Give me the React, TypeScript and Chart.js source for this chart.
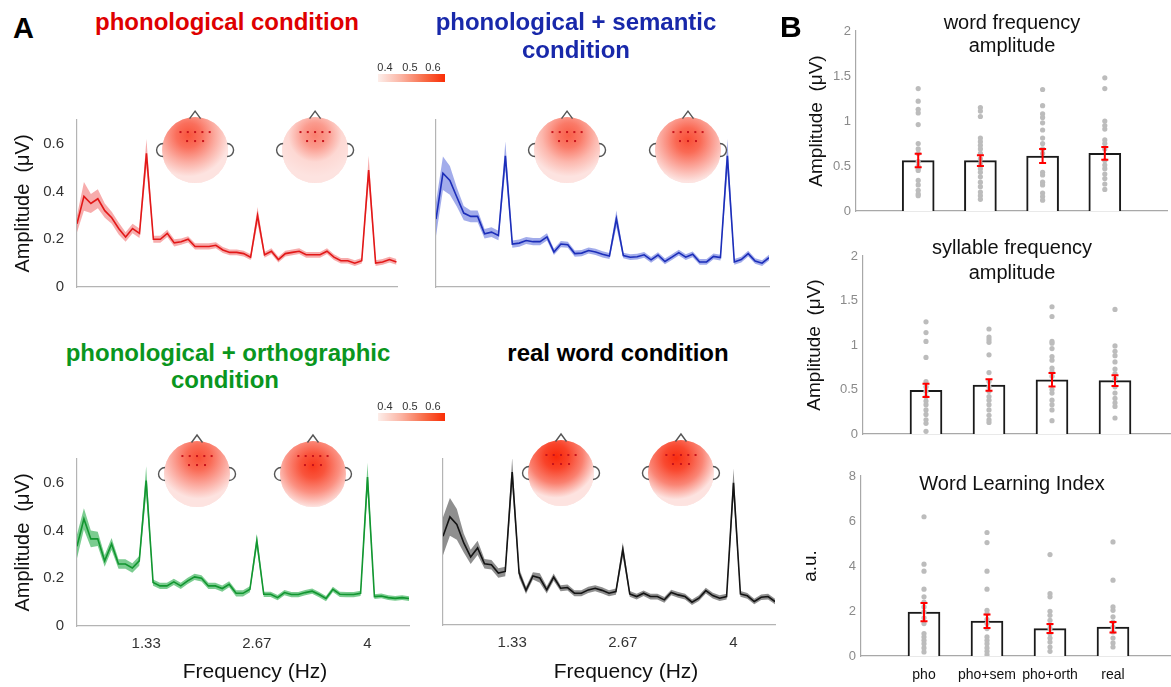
import React, { useEffect, useRef } from 'react';
import { Chart, registerables } from 'chart.js';

Chart.register(...registerables);

const FONT = '"Liberation Sans", Arial, Helvetica, sans-serif';
Chart.defaults.font.family = FONT;

// ---------------- Panel A : spectra ----------------
const freqStart = 0.5; // Hz, first frequency bin
const freqStep = 1 / 12; // Hz, spectral resolution
const freqTickValues = [1.3333, 2.6667, 4];
const freqTickLabels = ['1.33', '2.67', '4'];
const ampTickValues = [0, 0.2, 0.4, 0.6];
const ampTickLabels = ['0', '0.2', '0.4', '0.6'];

const phoMean = [0.265, 0.38, 0.35, 0.37, 0.32, 0.29, 0.245, 0.21, 0.245, 0.225, 0.56, 0.2, 0.2, 0.225, 0.185, 0.19, 0.2, 0.17, 0.17, 0.17, 0.175, 0.155, 0.145, 0.145, 0.14, 0.125, 0.3, 0.135, 0.15, 0.115, 0.14, 0.145, 0.15, 0.135, 0.135, 0.135, 0.15, 0.125, 0.11, 0.11, 0.1, 0.11, 0.49, 0.1, 0.105, 0.115, 0.105];
const phoSem = [0.035, 0.06, 0.04, 0.04, 0.03, 0.025, 0.025, 0.02, 0.02, 0.02, 0.06, 0.015, 0.015, 0.015, 0.015, 0.013, 0.013, 0.013, 0.013, 0.013, 0.013, 0.013, 0.012, 0.012, 0.012, 0.012, 0.035, 0.012, 0.012, 0.012, 0.012, 0.012, 0.012, 0.012, 0.012, 0.012, 0.012, 0.012, 0.012, 0.012, 0.012, 0.012, 0.06, 0.012, 0.012, 0.012, 0.012];

const semMean = [0.285, 0.477, 0.447, 0.377, 0.31, 0.296, 0.296, 0.223, 0.23, 0.216, 0.55, 0.18, 0.184, 0.195, 0.19, 0.19, 0.21, 0.147, 0.18, 0.177, 0.14, 0.142, 0.153, 0.147, 0.137, 0.13, 0.286, 0.132, 0.125, 0.127, 0.135, 0.114, 0.134, 0.107, 0.125, 0.144, 0.125, 0.137, 0.105, 0.105, 0.128, 0.123, 0.55, 0.105, 0.115, 0.14, 0.109, 0.1, 0.123];
const semSem = [0.07, 0.07, 0.06, 0.04, 0.03, 0.025, 0.025, 0.02, 0.02, 0.02, 0.06, 0.015, 0.015, 0.015, 0.015, 0.015, 0.015, 0.013, 0.013, 0.013, 0.013, 0.013, 0.013, 0.013, 0.013, 0.013, 0.035, 0.012, 0.012, 0.012, 0.012, 0.012, 0.012, 0.012, 0.012, 0.012, 0.012, 0.012, 0.012, 0.012, 0.012, 0.012, 0.07, 0.012, 0.012, 0.012, 0.012, 0.012, 0.012];

const orthMean = [0.334, 0.449, 0.365, 0.365, 0.273, 0.344, 0.26, 0.26, 0.243, 0.273, 0.61, 0.182, 0.168, 0.168, 0.185, 0.168, 0.189, 0.206, 0.2, 0.168, 0.168, 0.157, 0.175, 0.137, 0.137, 0.154, 0.357, 0.133, 0.133, 0.119, 0.14, 0.132, 0.132, 0.14, 0.146, 0.132, 0.115, 0.154, 0.133, 0.132, 0.132, 0.137, 0.624, 0.123, 0.126, 0.119, 0.116, 0.119, 0.115];
const orthSem = [0.05, 0.045, 0.035, 0.03, 0.025, 0.025, 0.02, 0.02, 0.02, 0.02, 0.06, 0.013, 0.013, 0.013, 0.013, 0.013, 0.013, 0.013, 0.013, 0.013, 0.013, 0.013, 0.013, 0.013, 0.013, 0.013, 0.03, 0.011, 0.011, 0.011, 0.011, 0.011, 0.011, 0.011, 0.011, 0.011, 0.011, 0.011, 0.011, 0.011, 0.011, 0.011, 0.06, 0.01, 0.01, 0.01, 0.01, 0.01, 0.01];

const realMean = [0.374, 0.456, 0.424, 0.346, 0.287, 0.325, 0.258, 0.254, 0.219, 0.226, 0.645, 0.219, 0.146, 0.207, 0.198, 0.148, 0.202, 0.155, 0.158, 0.134, 0.134, 0.148, 0.155, 0.146, 0.134, 0.141, 0.318, 0.131, 0.12, 0.134, 0.12, 0.12, 0.106, 0.137, 0.127, 0.12, 0.096, 0.113, 0.145, 0.124, 0.113, 0.12, 0.6, 0.131, 0.123, 0.099, 0.117, 0.12, 0.099];
const realSem = [0.08, 0.08, 0.065, 0.04, 0.03, 0.03, 0.02, 0.02, 0.02, 0.02, 0.06, 0.02, 0.015, 0.015, 0.02, 0.015, 0.015, 0.013, 0.013, 0.013, 0.013, 0.013, 0.013, 0.013, 0.013, 0.013, 0.03, 0.012, 0.012, 0.012, 0.012, 0.012, 0.012, 0.012, 0.012, 0.012, 0.012, 0.012, 0.012, 0.012, 0.012, 0.012, 0.06, 0.012, 0.012, 0.012, 0.012, 0.012, 0.012];

// topography peak amplitude (µV) for [word-frequency map, syllable-frequency map]
const phoTopo = [0.55, 0.47];
const semTopo = [0.53, 0.56];
const orthTopo = [0.56, 0.6];
const realTopo = [0.63, 0.62];

// ---------------- Panel B : bar plots ----------------
const conditionLabels = ['pho', 'pho+sem', 'pho+orth', 'real'];

const wordAmpMean = [0.56, 0.56, 0.61, 0.64];
const wordAmpErr = [0.075, 0.06, 0.078, 0.07];
const wordAmpSubjects = [
  [1.36, 1.22, 1.13, 1.09, 0.96, 0.75, 0.69, 0.64, 0.55, 0.5, 0.47, 0.45, 0.34, 0.29, 0.23, 0.19, 0.17],
  [1.15, 1.11, 1.05, 0.81, 0.77, 0.73, 0.69, 0.64, 0.58, 0.53, 0.47, 0.43, 0.38, 0.32, 0.27, 0.21, 0.17, 0.13],
  [1.35, 1.17, 1.08, 1.04, 0.98, 0.9, 0.81, 0.75, 0.69, 0.64, 0.43, 0.4, 0.32, 0.29, 0.2, 0.16, 0.12],
  [1.48, 1.36, 1.0, 0.95, 0.91, 0.79, 0.75, 0.69, 0.56, 0.51, 0.47, 0.41, 0.36, 0.3, 0.24],
];
const ampTicksB = [0, 0.5, 1, 1.5, 2];
const ampTickLabelsB = ['0', '0.5', '1', '1.5', '2'];

const sylAmpMean = [0.49, 0.55, 0.61, 0.6];
const sylAmpErr = [0.075, 0.065, 0.075, 0.06];
const sylAmpSubjects = [
  [1.26, 1.14, 1.04, 0.86, 0.59, 0.53, 0.48, 0.42, 0.37, 0.33, 0.27, 0.22, 0.16, 0.12, 0.03],
  [1.18, 1.09, 1.06, 1.03, 0.89, 0.69, 0.59, 0.53, 0.48, 0.42, 0.38, 0.33, 0.27, 0.21, 0.16, 0.13],
  [1.43, 1.32, 1.04, 1.02, 0.96, 0.87, 0.83, 0.74, 0.7, 0.65, 0.5, 0.46, 0.38, 0.33, 0.27, 0.15],
  [1.4, 0.99, 0.93, 0.88, 0.81, 0.73, 0.68, 0.62, 0.53, 0.46, 0.4, 0.35, 0.31, 0.18],
];

const wliMean = [1.95, 1.55, 1.22, 1.28];
const wliErr = [0.41, 0.3, 0.2, 0.23];
const wliSubjects = [
  [6.19, 4.08, 3.77, 2.97, 2.63, 2.4, 2.18, 1.96, 1.7, 1.44, 1.0, 0.85, 0.7, 0.55, 0.36, 0.18],
  [5.49, 5.04, 3.77, 2.97, 2.03, 1.88, 1.63, 1.44, 1.22, 0.85, 0.7, 0.55, 0.36, 0.21, 0.06],
  [4.51, 2.77, 2.63, 1.99, 1.81, 1.59, 1.39, 1.22, 1.0, 0.8, 0.62, 0.4, 0.21],
  [5.07, 3.37, 2.18, 2.03, 1.74, 1.51, 1.29, 1.07, 0.8, 0.58, 0.4],
];
const wliTicks = [0, 2, 4, 6, 8];
const wliTickLabels = ['0', '2', '4', '6', '8'];

// ---------------- helpers ----------------
type Rect = { left: number; top: number; width: number; height: number };

function heat(v: number, a = 1) {
  const t = Math.max(0, Math.min(1, (v - 0.3) / 0.35));
  const r = Math.round(253 - 5 * t);
  const g = Math.round(232 - 192 * t);
  const b = Math.round(230 - 220 * t);
  return `rgba(${r},${g},${b},${a})`;
}

function drawHead(ctx: CanvasRenderingContext2D, cx: number, cy: number, r: number, v: number, hx: number, hy: number) {
  ctx.save();
  ctx.beginPath();
  ctx.arc(cx, cy, r, 0, Math.PI * 2);
  ctx.clip();
  ctx.fillStyle = heat(0.31);
  ctx.fillRect(cx - r - 2, cy - r - 2, 2 * r + 4, 2 * r + 4);
  const gx = cx + hx * r;
  const gy = cy + hy * r;
  const g = ctx.createRadialGradient(gx, gy, 0, gx, gy, 1.25 * r);
  g.addColorStop(0, heat(v + 0.02));
  g.addColorStop(0.3, heat(v - 0.03));
  g.addColorStop(0.65, heat(v - 0.14));
  g.addColorStop(1, heat(0.31));
  ctx.fillStyle = g;
  ctx.fillRect(cx - r - 2, cy - r - 2, 2 * r + 4, 2 * r + 4);
  ctx.restore();

  ctx.save();
  ctx.strokeStyle = '#555';
  ctx.lineWidth = 1.4;
  ctx.beginPath();
  ctx.moveTo(cx - 5.5, cy - r + 1.5);
  ctx.lineTo(cx, cy - r - 6);
  ctx.lineTo(cx + 5.5, cy - r + 1.5);
  ctx.stroke();
  ctx.beginPath();
  ctx.arc(cx - r + 1, cy, 6.5, Math.PI * 0.5, Math.PI * 1.5);
  ctx.stroke();
  ctx.beginPath();
  ctx.arc(cx + r - 1, cy, 6.5, -Math.PI * 0.5, Math.PI * 0.5);
  ctx.stroke();
  ctx.fillStyle = '#c8141c';
  [-14.6, -7.3, 0, 7.3, 14.6].forEach((dx) => ctx.fillRect(cx + dx - 1, cy - 19, 2, 2));
  [-8, 0, 8].forEach((dx) => ctx.fillRect(cx + dx - 1, cy - 10, 2, 2));
  ctx.restore();
}

type HeadSpec = { x: number; y: number; hx: number; hy: number };

type LineSpec = {
  rect: Rect;
  yAxisWidth: number;
  xAxisHeight: number;
  padTop: number;
  padRight: number;
  xMax: number;
  mean: number[];
  sem: number[];
  line: string;
  band: string;
  yLabels: boolean;
  xLabels: boolean;
  topo: number[];
  heads: HeadSpec[];
};

function lineConfig(p: LineSpec): any {
  const xs = p.mean.map((_, i) => freqStart + i * freqStep);
  const pts = (arr: number[]) => arr.map((y, i) => ({ x: xs[i], y }));
  const lower = p.mean.map((m, i) => m - p.sem[i]);
  const upper = p.mean.map((m, i) => m + p.sem[i]);
  const headsPlugin = {
    id: 'heads',
    afterDatasetsDraw(chart: any) {
      const { ctx, scales } = chart;
      p.heads.forEach((h, i) => {
        drawHead(ctx, scales.x.getPixelForValue(h.x), scales.y.getPixelForValue(h.y), 33, p.topo[i], h.hx, h.hy);
      });
    },
  };
  return {
    type: 'line',
    data: {
      datasets: [
        { data: pts(lower), borderColor: 'rgba(0,0,0,0)', backgroundColor: p.band, pointRadius: 0, fill: false, order: 2 },
        { data: pts(upper), borderColor: 'rgba(0,0,0,0)', backgroundColor: p.band, pointRadius: 0, fill: '-1', order: 1 },
        { data: pts(p.mean), borderColor: p.line, borderWidth: 1.6, pointRadius: 0, fill: false, order: 0 },
      ],
    },
    plugins: [headsPlugin],
    options: {
      responsive: false,
      animation: false,
      devicePixelRatio: 1,
      layout: { padding: { top: p.padTop, right: p.padRight, left: 0, bottom: 0 } },
      plugins: { legend: { display: false }, tooltip: { enabled: false } },
      scales: {
        x: {
          type: 'linear',
          min: freqStart,
          max: p.xMax,
          grid: { display: false, drawTicks: false },
          border: { display: true, color: '#b4b4b4', width: 1.2 },
          afterBuildTicks: (s: any) => {
            s.ticks = freqTickValues.map((v) => ({ value: v }));
          },
          afterFit: (s: any) => {
            s.height = p.xAxisHeight;
            s.paddingLeft = 0;
            s.paddingRight = 0;
          },
          ticks: {
            display: p.xLabels,
            padding: 9,
            color: '#333',
            font: { size: 15, family: FONT },
            autoSkip: false,
            maxRotation: 0,
            callback: (_v: any, i: number) => freqTickLabels[i],
          },
        },
        y: {
          type: 'linear',
          min: 0,
          max: 0.7,
          grid: { display: false, drawTicks: false },
          border: { display: true, color: '#b4b4b4', width: 1.2 },
          afterBuildTicks: (s: any) => {
            s.ticks = ampTickValues.map((v) => ({ value: v }));
          },
          afterFit: (s: any) => {
            s.width = p.yAxisWidth;
            s.paddingTop = 0;
            s.paddingBottom = 0;
          },
          ticks: {
            display: p.yLabels,
            padding: 13,
            color: '#333',
            font: { size: 15, family: FONT },
            callback: (_v: any, i: number) => ampTickLabels[i],
          },
          title: {
            display: p.yLabels,
            text: 'Amplitude  (μV)',
            color: '#111',
            font: { size: 20, family: FONT },
            padding: { top: 11, bottom: 0 },
          },
        },
      },
    },
  };
}

type BarSpec = {
  rect: Rect;
  yAxisWidth: number;
  xAxisHeight: number;
  padTop: number;
  padRight: number;
  yMax: number;
  yTicks: number[];
  yTickLabels: string[];
  means: number[];
  errs: number[];
  subjects: number[][];
  yTitle: string;
  titlePad: number;
  xLabels: boolean;
};

function barConfig(p: BarSpec): any {
  const bars = p.means.map((m, i) => ({ x: i + 1, y: m }));
  const dots: { x: number; y: number }[] = [];
  p.subjects.forEach((g, gi) => g.forEach((v) => dots.push({ x: gi + 1, y: v })));
  const errPlugin = {
    id: 'errbars',
    afterDatasetsDraw(chart: any) {
      const { ctx, scales } = chart;
      ctx.save();
      ctx.strokeStyle = '#f00';
      ctx.lineWidth = 2;
      p.means.forEach((m, i) => {
        const px = scales.x.getPixelForValue(i + 1);
        const y1 = scales.y.getPixelForValue(m - p.errs[i]);
        const y2 = scales.y.getPixelForValue(m + p.errs[i]);
        ctx.beginPath();
        ctx.moveTo(px, y1);
        ctx.lineTo(px, y2);
        ctx.moveTo(px - 3.5, y1);
        ctx.lineTo(px + 3.5, y1);
        ctx.moveTo(px - 3.5, y2);
        ctx.lineTo(px + 3.5, y2);
        ctx.stroke();
      });
      ctx.restore();
    },
  };
  return {
    type: 'bar',
    data: {
      datasets: [
        { type: 'scatter', data: dots, pointRadius: 2.6, pointBackgroundColor: '#bcbcbc', pointBorderWidth: 0, order: 0 },
        { type: 'bar', data: bars, backgroundColor: '#ffffff', borderColor: '#1a1a1a', borderWidth: 2, barThickness: 32, order: 1 },
      ],
    },
    plugins: [errPlugin],
    options: {
      responsive: false,
      animation: false,
      devicePixelRatio: 1,
      layout: { padding: { top: p.padTop, right: p.padRight, left: 0, bottom: 0 } },
      plugins: { legend: { display: false }, tooltip: { enabled: false } },
      scales: {
        x: {
          type: 'linear',
          min: 0,
          max: 5,
          offset: false,
          grid: { display: false, drawTicks: false },
          border: { display: true, color: '#a8a8a8', width: 1.2 },
          afterBuildTicks: (s: any) => {
            s.ticks = conditionLabels.map((_, i) => ({ value: i + 1 }));
          },
          afterFit: (s: any) => {
            s.height = p.xAxisHeight;
            s.paddingLeft = 0;
            s.paddingRight = 0;
          },
          ticks: {
            display: p.xLabels,
            padding: 11,
            color: '#111',
            font: { size: 14, family: FONT },
            autoSkip: false,
            maxRotation: 0,
            callback: (_v: any, i: number) => conditionLabels[i],
          },
        },
        y: {
          type: 'linear',
          min: 0,
          max: p.yMax,
          grid: { display: false, drawTicks: false },
          border: { display: true, color: '#a8a8a8', width: 1.2 },
          afterBuildTicks: (s: any) => {
            s.ticks = p.yTicks.map((v) => ({ value: v }));
          },
          afterFit: (s: any) => {
            s.width = p.yAxisWidth;
            s.paddingTop = 0;
            s.paddingBottom = 0;
          },
          ticks: {
            padding: 5,
            color: '#8a8a8a',
            font: { size: 13, family: FONT },
            callback: (_v: any, i: number) => p.yTickLabels[i],
          },
          title: {
            display: true,
            text: p.yTitle,
            color: '#111',
            font: { size: 19, family: FONT },
            padding: { top: p.titlePad, bottom: 0 },
          },
        },
      },
    },
  };
}

function ChartCanvas({ rect, config }: { rect: Rect; config: () => any }) {
  const ref = useRef<HTMLCanvasElement>(null);
  useEffect(() => {
    const chart = new Chart(ref.current as HTMLCanvasElement, config());
    return () => chart.destroy();
  }, []);
  return (
    <canvas
      ref={ref}
      width={rect.width}
      height={rect.height}
      style={{ position: 'absolute', left: rect.left, top: rect.top, width: rect.width, height: rect.height }}
    />
  );
}

function Text({ x, baseline, size, bold, color = '#111', children }: any) {
  return (
    <div
      style={{
        position: 'absolute',
        left: x,
        top: baseline - 0.8465 * size,
        transform: 'translateX(-50%)',
        fontFamily: FONT,
        fontSize: size,
        lineHeight: `${size}px`,
        fontWeight: bold ? 700 : 400,
        color,
        whiteSpace: 'nowrap',
      }}
    >
      {children}
    </div>
  );
}

function ColorBar({ top }: { top: number }) {
  return (
    <>
      <div
        style={{
          position: 'absolute',
          left: 378,
          top,
          width: 67,
          height: 8,
          background: 'linear-gradient(to right, #fdeeea, #fbb3a2 35%, #f86a45 70%, #fa2d05)',
        }}
      />
      <Text x={385} baseline={top - 2.5} size={11} color="#333">0.4</Text>
      <Text x={410} baseline={top - 2.5} size={11} color="#333">0.5</Text>
      <Text x={433} baseline={top - 2.5} size={11} color="#333">0.6</Text>
    </>
  );
}

export default function App() {
  useEffect(() => {
    document.body.style.margin = '0';
  }, []);

  const tl: LineSpec = {
    rect: { left: 0, top: 100, width: 400, height: 200 },
    yAxisWidth: 77, xAxisHeight: 13, padTop: 20, padRight: 3, xMax: 4.34,
    mean: phoMean, sem: phoSem, line: 'rgb(226,24,24)', band: 'rgba(238,70,70,0.45)',
    yLabels: true, xLabels: false, topo: phoTopo,
    heads: [{ x: 1.917, y: 0.574, hx: -0.2, hy: -0.45 }, { x: 3.357, y: 0.574, hx: 0, hy: -0.45 }],
  };
  const tr: LineSpec = {
    rect: { left: 420, top: 100, width: 360, height: 200 },
    yAxisWidth: 16, xAxisHeight: 13, padTop: 20, padRight: 11, xMax: 4.5,
    mean: semMean, sem: semSem, line: 'rgb(28,46,185)', band: 'rgba(70,90,215,0.5)',
    yLabels: false, xLabels: false, topo: semTopo,
    heads: [{ x: 2.074, y: 0.574, hx: 0.05, hy: -0.45 }, { x: 3.527, y: 0.574, hx: 0, hy: -0.3 }],
  };
  const bl: LineSpec = {
    rect: { left: 0, top: 420, width: 420, height: 267 },
    yAxisWidth: 77, xAxisHeight: 61, padTop: 39, padRight: 11, xMax: 4.5,
    mean: orthMean, sem: orthSem, line: 'rgb(18,150,48)', band: 'rgba(35,170,70,0.6)',
    yLabels: true, xLabels: true, topo: orthTopo,
    heads: [{ x: 1.946, y: 0.637, hx: 0.05, hy: -0.5 }, { x: 3.343, y: 0.637, hx: 0, hy: -0.25 }],
  };
  const br: LineSpec = {
    rect: { left: 420, top: 420, width: 370, height: 267 },
    yAxisWidth: 23, xAxisHeight: 62, padTop: 39, padRight: 15, xMax: 4.5,
    mean: realMean, sem: realSem, line: 'rgb(20,20,20)', band: 'rgba(95,95,95,0.7)',
    yLabels: false, xLabels: true, topo: realTopo,
    heads: [{ x: 1.922, y: 0.641, hx: -0.15, hy: -0.5 }, { x: 3.367, y: 0.641, hx: -0.15, hy: -0.45 }],
  };

  const b1: BarSpec = {
    rect: { left: 790, top: 20, width: 381, height: 210 },
    yAxisWidth: 66, xAxisHeight: 19, padTop: 11, padRight: 3, yMax: 2,
    yTicks: ampTicksB, yTickLabels: ampTickLabelsB,
    means: wordAmpMean, errs: wordAmpErr, subjects: wordAmpSubjects,
    yTitle: 'Amplitude  (μV)', titlePad: 15.6, xLabels: false,
  };
  const b2: BarSpec = {
    rect: { left: 790, top: 240, width: 395, height: 210 },
    yAxisWidth: 73, xAxisHeight: 16, padTop: 16, padRight: 7, yMax: 2,
    yTicks: ampTicksB, yTickLabels: ampTickLabelsB,
    means: sylAmpMean, errs: sylAmpErr, subjects: sylAmpSubjects,
    yTitle: 'Amplitude  (μV)', titlePad: 13.6, xLabels: false,
  };
  const b3: BarSpec = {
    rect: { left: 790, top: 460, width: 395, height: 227 },
    yAxisWidth: 71, xAxisHeight: 31, padTop: 16, padRight: 9, yMax: 8,
    yTicks: wliTicks, yTickLabels: wliTickLabels,
    means: wliMean, errs: wliErr, subjects: wliSubjects,
    yTitle: 'a.u.', titlePad: 9.6, xLabels: true,
  };

  return (
    <div style={{ position: 'relative', width: 1171, height: 687, overflow: 'hidden', background: '#fff' }}>
      {[tl, tr, bl, br].map((s, i) => (
        <ChartCanvas key={'l' + i} rect={s.rect} config={() => lineConfig(s)} />
      ))}
      {[b1, b2, b3].map((s, i) => (
        <ChartCanvas key={'b' + i} rect={s.rect} config={() => barConfig(s)} />
      ))}

      <div style={{ position: 'absolute', left: 13, top: 39 - 0.8465 * 29, fontFamily: FONT, fontSize: 29, lineHeight: '29px', fontWeight: 700, color: '#000' }}>A</div>
      <div style={{ position: 'absolute', left: 780, top: 37 - 0.8465 * 30, fontFamily: FONT, fontSize: 30, lineHeight: '30px', fontWeight: 700, color: '#000' }}>B</div>

      <Text x={227} baseline={30.5} size={24} bold color="rgb(222,0,0)">phonological condition</Text>
      <Text x={576} baseline={30.5} size={24} bold color="rgb(24,40,170)">phonological + semantic</Text>
      <Text x={576} baseline={58.5} size={24} bold color="rgb(24,40,170)">condition</Text>
      <Text x={228} baseline={361} size={24} bold color="rgb(10,150,30)">phonological + orthographic</Text>
      <Text x={225} baseline={388} size={24} bold color="rgb(10,150,30)">condition</Text>
      <Text x={618} baseline={361} size={24} bold color="#000">real word condition</Text>

      <ColorBar top={74} />
      <ColorBar top={413} />

      <Text x={255} baseline={678} size={21}>Frequency (Hz)</Text>
      <Text x={626} baseline={678} size={21}>Frequency (Hz)</Text>

      <Text x={1012} baseline={29.4} size={20}>word frequency</Text>
      <Text x={1012} baseline={52.4} size={20}>amplitude</Text>
      <Text x={1012} baseline={254.4} size={20}>syllable frequency</Text>
      <Text x={1012} baseline={279} size={20}>amplitude</Text>
      <Text x={1012} baseline={489.5} size={20}>Word Learning Index</Text>
    </div>
  );
}
